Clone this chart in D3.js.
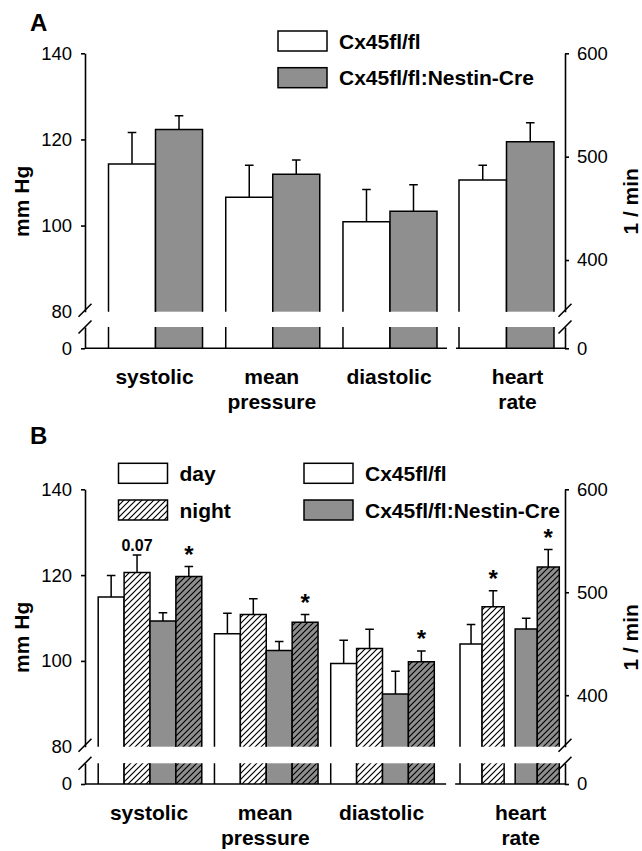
<!DOCTYPE html>
<html>
<head>
<meta charset="utf-8">
<script src="https://cdn.jsdelivr.net/npm/d3@7"></script>
<style>
  body { margin: 0; background: #fff; }
  svg { display: block; font-family: "Liberation Sans", Arial, sans-serif; }
</style>
</head>
<body>
<div id="chart"></div>
<script>
const categories = ["systolic", "mean pressure", "diastolic", "heart rate"];
const categoryLines = [["systolic"], ["mean", "pressure"], ["diastolic"], ["heart", "rate"]];
const genotypes = ["Cx45fl/fl", "Cx45fl/fl:Nestin-Cre"];
const times = ["day", "night"];
const mmHgTicks = [80, 100, 120, 140];
const rateTicks = [400, 500, 600];

// A: mean values with upper error (SEM)
const aControl = [114.3, 106.6, 100.9, 477.4];
const aControlSem = [7.3, 7.4, 7.5, 14.3];
const aKnockout = [122.3, 111.9, 103.3, 514.5];
const aKnockoutSem = [3.2, 3.3, 6.2, 18.2];

// B: day / night
const bControlDay = [114.9, 106.3, 99.4, 449.8];
const bControlDaySem = [5.0, 4.8, 5.4, 18.8];
const bControlNight = [120.6, 110.8, 102.9, 485.9];
const bControlNightSem = [4.1, 3.7, 4.5, 15.6];
const bKnockoutDay = [109.3, 102.4, 92.3, 464.4];
const bKnockoutDaySem = [1.9, 2.1, 5.3, 10.4];
const bKnockoutNight = [119.7, 109.0, 99.8, 524.6];
const bKnockoutNightSem = [2.3, 1.8, 2.5, 16.9];
const bControlNightMarks = ["0.07", "", "", "*"];
const bKnockoutNightMarks = ["*", "*", "*", "*"];

const gray = "#8f8f8f";
const fills = {
  "Cx45fl/fl": { day: "#fff", night: "url(#hatchWhite)" },
  "Cx45fl/fl:Nestin-Cre": { day: gray, night: "url(#hatchGray)" }
};

const svg = d3.select("#chart")
  .append("svg")
  .attr("width", 642)
  .attr("height", 851);

const defs = svg.append("defs");
function hatch(id, bg) {
  const p = defs.append("pattern")
    .attr("id", id)
    .attr("patternUnits", "userSpaceOnUse")
    .attr("width", 6).attr("height", 6);
  p.append("rect").attr("width", 6).attr("height", 6).attr("fill", bg);
  p.append("path")
    .attr("d", "M-1,1L1,-1M0,6L6,0M5,7L7,5")
    .attr("stroke", "#000").attr("stroke-width", 1.2);
}
hatch("hatchWhite", "#fff");
hatch("hatchGray", gray);

const panelABars = categories.flatMap((c, i) => [
  { cat: c, geno: genotypes[0], value: aControl[i], sem: aControlSem[i] },
  { cat: c, geno: genotypes[1], value: aKnockout[i], sem: aKnockoutSem[i] }
]);

const panelBBars = categories.flatMap((c, i) => [
  { cat: c, geno: genotypes[0], time: "day", value: bControlDay[i], sem: bControlDaySem[i] },
  { cat: c, geno: genotypes[0], time: "night", value: bControlNight[i], sem: bControlNightSem[i], mark: bControlNightMarks[i] },
  { cat: c, geno: genotypes[1], time: "day", value: bKnockoutDay[i], sem: bKnockoutDaySem[i] },
  { cat: c, geno: genotypes[1], time: "night", value: bKnockoutNight[i], sem: bKnockoutNightSem[i], mark: bKnockoutNightMarks[i] }
]);

function styleAxis(g, size) {
  g.attr("font-size", size).attr("font-family", null);
  g.select(".domain").attr("stroke-width", 1.6);
  g.selectAll(".tick line").attr("stroke-width", 1.6);
}

function slash(g, x, y) {
  g.append("line")
    .attr("x1", x - 6.5).attr("y1", y + 6.5)
    .attr("x2", x + 6.5).attr("y2", y - 6.5)
    .attr("stroke", "#000").attr("stroke-width", 1.6);
}

function drawPanel(p) {
  const g = svg.append("g");
  const mmUp = d3.scaleLinear().domain([80, 140]).range([p.breakY, p.top]);
  const mmLow = d3.scaleLinear().domain([0, 80]).range([p.base, p.lowTop]);
  const rateUp = d3.scaleLinear().domain([350, 600]).range([p.breakY, p.top]);
  const rateLow = d3.scaleLinear().domain([0, 350]).range([p.base, p.lowTop]);

  const pressureX = d3.scaleBand()
    .domain(categories.slice(0, 3))
    .range(p.pressureRange)
    .paddingInner(p.groupPad);
  const span = c => c === "heart rate"
    ? p.rateRange
    : [pressureX(c), pressureX(c) + pressureX.bandwidth()];

  p.bars.forEach(b => {
    const genoX = d3.scaleBand().domain(genotypes).range(span(b.cat))
      .paddingInner(b.cat === "heart rate" ? p.ratePad : 0);
    let x0 = genoX(b.geno), w = genoX.bandwidth();
    if (b.time) {
      const timeX = d3.scaleBand().domain(times).range([x0, x0 + w]);
      x0 = timeX(b.time);
      w = timeX.bandwidth();
    }
    const x1 = x0 + w, xc = x0 + w / 2;
    const y = b.cat === "heart rate" ? rateUp : mmUp;
    const yTop = y(b.value), yErr = y(b.value + b.sem);
    const fill = fills[b.geno][b.time || "day"];

    g.append("rect").attr("x", x0).attr("y", yTop)
      .attr("width", w).attr("height", p.breakY - yTop).attr("fill", fill);
    g.append("rect").attr("x", x0).attr("y", p.lowTop)
      .attr("width", w).attr("height", p.base - p.lowTop).attr("fill", fill);
    g.append("path")
      .attr("d", `M${x0},${p.breakY}V${yTop}H${x1}V${p.breakY}M${x0},${p.lowTop}V${p.base}M${x1},${p.lowTop}V${p.base}`)
      .attr("fill", "none").attr("stroke", "#000").attr("stroke-width", 1.5);
    g.append("path")
      .attr("d", `M${xc},${yTop}V${yErr}M${xc - 4.3},${yErr}H${xc + 4.3}`)
      .attr("fill", "none").attr("stroke", "#000").attr("stroke-width", 1.5);
    if (b.mark) {
      const star = b.mark === "*";
      g.append("text")
        .attr("x", xc).attr("y", yErr - (star ? 4 : 4))
        .attr("text-anchor", "middle")
        .attr("font-weight", "bold")
        .attr("font-size", star ? 24 : 16)
        .text(b.mark);
    }
  });

  // left axis (mm Hg)
  const left = g.append("g").attr("transform", `translate(${p.leftX},0)`)
    .call(d3.axisLeft(mmUp).tickValues(mmHgTicks).tickSize(4).tickSizeOuter(0).tickPadding(9));
  left.selectAll(".tick").filter(d => d === 80).select("line").remove();
  styleAxis(left, 18.5);
  const leftLow = g.append("g").attr("transform", `translate(${p.leftX},0)`)
    .call(d3.axisLeft(mmLow).tickValues([0]).tickSize(4).tickSizeOuter(0).tickPadding(9));
  styleAxis(leftLow, 18.5);

  // right axis (1/min)
  const right = g.append("g").attr("transform", `translate(${p.rightX},0)`)
    .call(d3.axisRight(rateUp).tickValues(rateTicks).tickSize(4).tickSizeOuter(0).tickPadding(8));
  styleAxis(right, 18.5);
  const rightLow = g.append("g").attr("transform", `translate(${p.rightX},0)`)
    .call(d3.axisRight(rateLow).tickValues([0]).tickSize(4).tickSizeOuter(0).tickPadding(8));
  styleAxis(rightLow, 18.5);

  [p.leftX, p.rightX].forEach(x => {
    slash(g, x, p.breakY - 1.5);
    slash(g, x, p.lowTop);
  });

  // broken baseline
  const gapMid = (p.pressureRange[1] + p.rateRange[0]) / 2;
  [[p.leftX, gapMid - 1], [gapMid + 8, p.rightX]].forEach(([a, b]) => {
    g.append("line").attr("x1", a).attr("x2", b)
      .attr("y1", p.base).attr("y2", p.base)
      .attr("stroke", "#000").attr("stroke-width", 1.6);
  });

  // category labels
  categories.forEach((c, i) => {
    const s = span(c);
    const cx = (s[0] + s[1]) / 2 + (c === "heart rate" ? 11 : -1);
    const t = g.append("text")
      .attr("text-anchor", "middle")
      .attr("font-weight", "bold")
      .attr("font-size", 21);
    categoryLines[i].forEach((line, k) => {
      t.append("tspan").attr("x", cx).attr("y", p.base + 36 + k * 25).text(line);
    });
  });

  g.append("text")
    .attr("transform", `translate(29,${p.top + 148}) rotate(-90)`)
    .attr("text-anchor", "middle").attr("font-weight", "bold").attr("font-size", 21)
    .text("mm Hg");
  g.append("text")
    .attr("transform", `translate(638,${p.top + 148}) rotate(-90)`)
    .attr("text-anchor", "middle").attr("font-weight", "bold").attr("font-size", 21)
    .text("1 / min");

  g.append("text")
    .attr("x", 30).attr("y", p.letterY)
    .attr("font-weight", "bold").attr("font-size", 24)
    .text(p.letter);
}

function legend(x, y, labels, boxFills) {
  labels.forEach((label, i) => {
    const yy = y + i * 36.7;
    svg.append("rect")
      .attr("x", x).attr("y", yy).attr("width", 49).attr("height", 20)
      .attr("fill", boxFills[i]).attr("stroke", "#000").attr("stroke-width", 1.5);
    svg.append("text")
      .attr("x", x + 61).attr("y", yy + 17.5)
      .attr("font-weight", "bold").attr("font-size", 21)
      .text(label);
  });
}

drawPanel({
  letter: "A", letterY: 31,
  top: 53.3, breakY: 311.7, lowTop: 327, base: 348.3,
  leftX: 85, rightX: 565,
  pressureRange: [108.5, 437], groupPad: 0.198,
  rateRange: [459, 554], ratePad: 0,
  bars: panelABars
});

drawPanel({
  letter: "B", letterY: 443.5,
  top: 489.3, breakY: 746.7, lowTop: 763.3, base: 784,
  leftX: 85, rightX: 565,
  pressureRange: [98.2, 434.3], groupPad: 0.109,
  rateRange: [460, 559.3], ratePad: 0.2,
  bars: panelBBars
});

legend(278, 31, genotypes, [fills[genotypes[0]].day, fills[genotypes[1]].day]);
legend(118.5, 463.3, times, [fills[genotypes[0]].day, fills[genotypes[0]].night]);
legend(304, 463.3, genotypes, [fills[genotypes[0]].day, fills[genotypes[1]].day]);
</script>
</body>
</html>
